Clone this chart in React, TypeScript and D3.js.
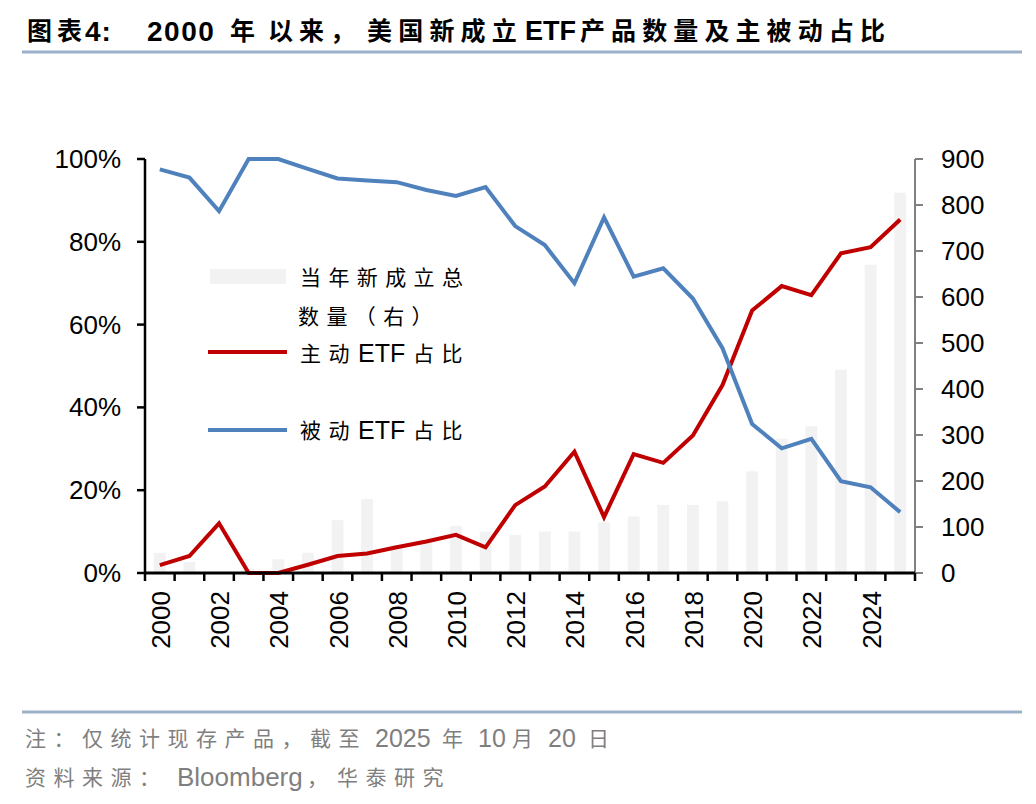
import React from "react";
import * as d3 from "d3";

const years = d3.range(2000, 2026).map(String);
const newCount = [44, 24, 2, 9, 30, 44, 115, 161, 61, 68, 102, 90, 83, 90, 90, 110, 123, 148, 148, 156, 221, 292, 319, 442, 670, 827];
const activeShare = [1.9, 4.1, 12.0, 0, 0, 2.0, 4.1, 4.7, 6.2, 7.6, 9.2, 6.2, 16.4, 20.9, 29.3, 13.5, 28.7, 26.6, 33.2, 45.4, 63.4, 69.3, 67.1, 77.2, 78.7, 85.4];
const passiveShare = [97.5, 95.5, 87.4, 100, 100, 97.6, 95.3, 94.8, 94.4, 92.5, 91.1, 93.2, 83.8, 79.2, 70.0, 85.9, 71.6, 73.6, 66.3, 54.3, 36.0, 30.1, 32.4, 22.2, 20.7, 14.7];
const leftTicks = [0, 20, 40, 60, 80, 100];
const rightTicks = [0, 100, 200, 300, 400, 500, 600, 700, 800, 900];

// text pieces: [text, x, letterSpacing, fontSize]
type Seg = [string, number, number, number];
const titleSegs: Seg[] = [
  ["图表", 27, 5, 25],
  ["4:", 85, 1, 28],
  ["2000", 147, 1.5, 28],
  ["年", 230, 0, 25],
  ["以来，", 268, 6, 25],
  ["美国新成立", 367, 6.2, 25],
  ["ETF", 525, 0, 27],
  ["产品数量及主被动占比", 580, 6.1, 25],
];
const noteSegs: Seg[] = [
  ["注：仅统计现存产品，截至", 25, 7.5, 21],
  ["2025", 375, 0, 25],
  ["年", 442, 0, 21],
  ["10", 478, 0, 25],
  ["月", 512, 0, 21],
  ["20", 548, 0, 25],
  ["日", 588, 0, 21],
];
const sourceSegs: Seg[] = [
  ["资料来源：", 25, 7.5, 21],
  ["Bloomberg", 177, 0, 26],
  ["，", 307, 0, 21],
  ["华泰研究", 337, 7.5, 21],
];
const legendBarSegs1: Seg[] = [["当年新成立总", 300, 7.4, 21]];
const legendBarSegs2: Seg[] = [["数量（右）", 298, 7.4, 21]];
const legendActiveSegs: Seg[] = [["主动", 300, 7.4, 21], ["ETF", 358, 0, 25], ["占比", 413, 7.4, 21]];
const legendPassiveSegs: Seg[] = [["被动", 300, 7.4, 21], ["ETF", 358, 0, 25], ["占比", 413, 7.4, 21]];

const FONT = "'Liberation Sans', Arial, 'Noto Sans CJK SC', sans-serif";
const RED = "#c00000";
const BLUE = "#4f81bd";
const RULE = "#9bb1c9";

function SegText({ segs, y, fill, weight }: { segs: Seg[]; y: number; fill: string; weight?: string }) {
  return (
    <g>
      {segs.map(([t, x, ls, fs], i) => (
        <text key={i} x={x} y={y} fontSize={fs} letterSpacing={ls} fill={fill} fontWeight={weight || "normal"} dominantBaseline="central">
          {t}
        </text>
      ))}
    </g>
  );
}

export default function App() {
  const W = 1036, H = 804;
  const x0 = 145, x1 = 915, yTop = 159, yBot = 573;
  const band = d3.scaleBand<string>().domain(years).range([x0, x1]);
  const yL = d3.scaleLinear().domain([0, 100]).range([yBot, yTop]);
  const yR = d3.scaleLinear().domain([0, 900]).range([yBot, yTop]);
  const cx = (y: string) => (band(y) as number) + band.bandwidth() / 2;
  const line = d3.line<number>().x((_, i) => cx(years[i])).y((v) => yL(v));
  const bw = band.bandwidth() * 0.4;

  return (
    <svg width={W} height={H} style={{ position: "absolute", left: 0, top: 0, background: "#fff" }} fontFamily={FONT}>
      <rect x={0} y={0} width={W} height={H} fill="#fff" />
      {/* title */}
      <SegText segs={titleSegs} y={31} fill="#000" weight="bold" />
      <line x1={22} x2={1022} y1={52} y2={52} stroke={RULE} strokeWidth={3} />

      {/* bars */}
      {newCount.map((v, i) => (
        <rect key={years[i]} x={cx(years[i]) - bw / 2} y={yR(v)} width={bw} height={yR(0) - yR(v)} fill="#f2f2f2" />
      ))}

      {/* lines */}
      <path d={line(activeShare) || ""} fill="none" stroke={RED} strokeWidth={4} strokeLinejoin="miter" />
      <path d={line(passiveShare) || ""} fill="none" stroke={BLUE} strokeWidth={4} strokeLinejoin="miter" />

      {/* left axis */}
      <line x1={x0} x2={x0} y1={yTop} y2={yBot} stroke="#000" strokeWidth={2.5} />
      {leftTicks.map((t) => (
        <g key={t}>
          <line x1={x0 - 8} x2={x0} y1={yL(t)} y2={yL(t)} stroke="#000" strokeWidth={2.5} />
          <text x={121} y={yL(t)} fontSize={26} textAnchor="end" dominantBaseline="central" fill="#000">
            {t}%
          </text>
        </g>
      ))}

      {/* right axis */}
      <line x1={x1} x2={x1} y1={yTop} y2={yBot} stroke="#808080" strokeWidth={2} />
      {rightTicks.map((t) => (
        <g key={t}>
          <line x1={x1} x2={x1 + 8} y1={yR(t)} y2={yR(t)} stroke="#808080" strokeWidth={2} />
          <text x={941} y={yR(t)} fontSize={26} textAnchor="start" dominantBaseline="central" fill="#000">
            {t}
          </text>
        </g>
      ))}

      {/* x axis */}
      <line x1={x0 - 1} x2={x1} y1={yBot} y2={yBot} stroke="#000" strokeWidth={3} />
      {years.map((y) => (
        <line key={y} x1={band(y) as number} x2={band(y) as number} y1={yBot} y2={yBot + 8} stroke="#000" strokeWidth={2.5} />
      ))}
      <line x1={x1} x2={x1} y1={yBot} y2={yBot + 8} stroke="#000" strokeWidth={2.5} />
      {years.filter((_, i) => i % 2 === 0).map((y) => (
        <text key={y} transform={`translate(${cx(y) + 1},591) rotate(-90)`} fontSize={26} textAnchor="end" dominantBaseline="central" fill="#000">
          {y}
        </text>
      ))}

      {/* legend */}
      <rect x={210} y={269} width={76} height={15} fill="#f2f2f2" />
      <SegText segs={legendBarSegs1} y={277} fill="#000" />
      <SegText segs={legendBarSegs2} y={316} fill="#000" />
      <line x1={208} x2={287} y1={352} y2={352} stroke={RED} strokeWidth={4} />
      <SegText segs={legendActiveSegs} y={353} fill="#000" />
      <line x1={208} x2={287} y1={430} y2={430} stroke={BLUE} strokeWidth={4} />
      <SegText segs={legendPassiveSegs} y={430} fill="#000" />

      {/* footer */}
      <line x1={22} x2={1022} y1={712} y2={712} stroke={RULE} strokeWidth={3} />
      <SegText segs={noteSegs} y={738} fill="#7f7f7f" />
      <SegText segs={sourceSegs} y={777} fill="#7f7f7f" />
    </svg>
  );
}
